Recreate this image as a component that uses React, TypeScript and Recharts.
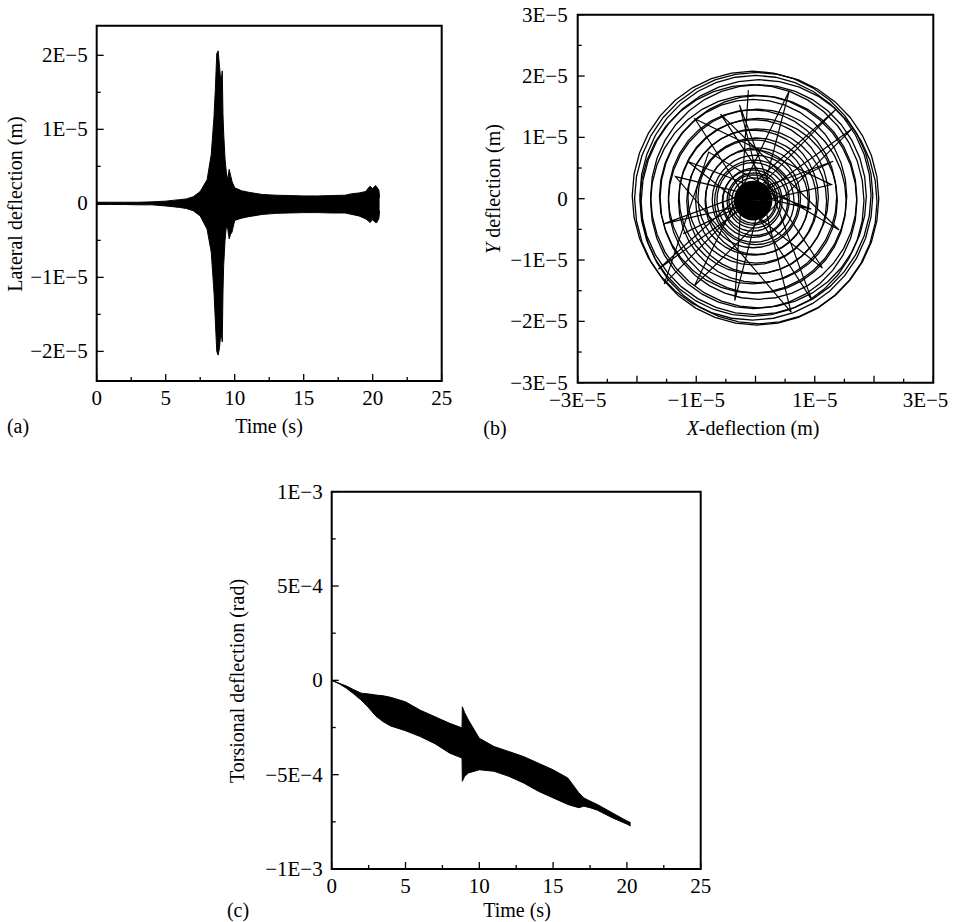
import React from 'react';
import { ComposedChart, Area, Line, XAxis, YAxis, ReferenceArea } from 'recharts';

const FONT = "'Liberation Serif', 'DejaVu Serif', 'Times New Roman', serif";

// ---------- Panel (a): lateral deflection envelope (units 1E-6 m) ----------
const A_TIME = [0, 1, 2, 3, 4, 5, 5.5, 6, 6.5, 7, 7.5, 8, 8.3, 8.5, 8.6, 8.7, 8.8, 8.9, 9.0, 9.1, 9.15, 9.2, 9.3, 9.4, 9.5, 9.6, 9.7, 9.8, 10, 10.5, 11, 12, 13, 14, 15, 16, 17, 18, 18.5, 19, 19.5, 19.7, 19.8, 20.0, 20.2, 20.3, 20.45, 20.5];
const A_UPPER = [0.15, 0.15, 0.15, 0.15, 0.2, 0.3, 0.4, 0.5, 0.6, 0.9, 1.6, 3.2, 6.6, 11.7, 15.5, 20.2, 20.6, 18.5, 16.2, 17.9, 12, 9.5, 6, 4.1, 3.2, 4.6, 3.8, 3.0, 2.1, 1.7, 1.5, 1.2, 1.1, 1.05, 1.0, 1.0, 1.05, 1.1, 1.3, 1.4, 1.6, 2.1, 2.3, 2.0, 2.4, 2.2, 1.8, 0.8];
const A_LOWER = [-0.15, -0.15, -0.15, -0.2, -0.2, -0.35, -0.45, -0.55, -0.7, -1.0, -1.7, -3.5, -6.6, -12, -16, -20, -20.5, -19.5, -17.3, -18.7, -12, -8.4, -5, -3.0, -3.5, -4.8, -4.2, -3.9, -2.3, -2.0, -1.8, -1.5, -1.35, -1.3, -1.25, -1.25, -1.3, -1.3, -1.5, -1.7, -2.1, -2.4, -2.6, -2.2, -2.6, -2.6, -2.0, -1.0];

const TIME_TICKS = [0, 2.5, 5, 7.5, 10, 12.5, 15, 17.5, 20, 22.5, 25];
const TIME_LONG = [0, 5, 10, 15, 20, 25];
const TIME_LABELS = ['0', '5', '10', '15', '20', '25'];

const A_Y_TICKS = [-2e-5, -1.5e-5, -1e-5, -0.5e-5, 0, 0.5e-5, 1e-5, 1.5e-5, 2e-5];
const A_Y_LONG = [-2e-5, -1e-5, 0, 1e-5, 2e-5];
const A_Y_LABELS = ['\u22122E\u22125', '\u22121E\u22125', '0', '1E\u22125', '2E\u22125'];

// ---------- Panel (b): orbit (units 1E-5 m) ----------
const B_RING_R = [2.06, 2.03, 1.99, 1.95, 1.89, 1.82, 1.74, 1.66, 1.58, 1.5, 1.42, 1.34, 1.26, 1.18, 1.1, 1.02, 0.94, 0.87, 0.8, 0.73, 0.67, 0.61, 0.55, 0.5, 0.45, 0.41, 0.37];
const B_RING_CX = [0.02, -0.05, 0.06, 0.0, -0.06, 0.05, -0.03, 0.05, -0.04, 0.03, -0.05, 0.04, -0.03, 0.02, -0.04, 0.01, -0.03, 0.02, -0.04, 0.0, -0.02, -0.04, -0.01, -0.05, -0.03, -0.04, -0.03];
const B_RING_CY = [0.0, 0.05, -0.05, 0.06, -0.03, 0.04, -0.05, 0.02, 0.04, -0.04, 0.03, -0.03, 0.03, -0.04, 0.02, -0.03, 0.02, -0.04, 0.0, -0.02, -0.04, -0.02, -0.05, -0.03, -0.03, -0.02, -0.03];
const B_CORE_R = [0.3, 0.26, 0.22, 0.18, 0.14, 0.1, 0.06, 0.03];
const B_CORE_CX = -0.04;
const B_CORE_CY = -0.03;
const B_ANGLES = [0, 10, 20, 30, 40, 50, 60, 70, 80, 90, 100, 110, 120, 130, 140, 150, 160, 170, 180, 190, 200, 210, 220, 230, 240, 250, 260, 270, 280, 290, 300, 310, 320, 330, 340, 350, 360];
const B_STAR_X = [-0.12, -0.35, 0.57, -1.03, 1.64, -1.64, 1.36, -1.54, -0.79, 1.41, -0.59, 1.13, -1.15, 0.94, -1.35, 0.6, -0.27, 0.95, -1.02, 1.28, -1.55, 1.31, -1.22];
const B_STAR_Y = [1.77, -1.66, 1.76, -1.42, 1.15, -1.15, 1.46, -1.39, 0.76, -0.51, 1.38, -1.13, 0.61, -0.17, 0.36, -1.85, 1.53, -1.65, 1.3, 0.23, -0.41, 0.61, -0.57];

const B_X_TICKS = [-3e-5, -2.5e-5, -2e-5, -1.5e-5, -1e-5, -0.5e-5, 0, 0.5e-5, 1e-5, 1.5e-5, 2e-5, 2.5e-5, 3e-5];
const B_X_LONG = [-3e-5, -2e-5, -1e-5, 0, 1e-5, 2e-5, 3e-5];
const B_X_LABEL_VALS = [-3e-5, -1e-5, 1e-5, 3e-5];
const B_X_LABELS = ['\u22123E\u22125', '\u22121E\u22125', '1E\u22125', '3E\u22125'];
const B_Y_TICKS = B_X_TICKS;
const B_Y_LONG = B_X_LONG;
const B_Y_LABELS = ['\u22123E\u22125', '\u22122E\u22125', '\u22121E\u22125', '0', '1E\u22125', '2E\u22125', '3E\u22125'];

// ---------- Panel (c): torsional deflection envelope (units 1E-4 rad) ----------
const C_TIME = [0, 0.5, 1, 1.5, 2, 2.5, 3, 3.5, 4, 5, 6, 7, 8, 8.83, 8.85, 9.0, 9.26, 10, 11, 12, 13, 14, 15, 16, 16.74, 17.08, 17.5, 18, 19, 20, 20.25];
const C_UPPER = [0, -0.15, -0.3, -0.5, -0.68, -0.72, -0.78, -0.82, -0.9, -1.14, -1.58, -1.93, -2.28, -2.52, -1.4, -1.7, -2.1, -3.07, -3.51, -3.77, -4.04, -4.39, -4.74, -5.18, -5.96, -6.23, -6.4, -6.58, -7.02, -7.45, -7.54];
const C_LOWER = [0, -0.18, -0.42, -0.72, -1.05, -1.45, -1.9, -2.2, -2.42, -2.67, -2.98, -3.36, -3.86, -4.12, -5.35, -5.1, -4.91, -4.74, -4.82, -5.09, -5.44, -5.88, -6.23, -6.58, -6.75, -6.67, -6.75, -6.88, -7.28, -7.62, -7.72];

const C_Y_TICKS = [-1e-3, -7.5e-4, -5e-4, -2.5e-4, 0, 2.5e-4, 5e-4, 7.5e-4, 1e-3];
const C_Y_LONG = [-1e-3, -5e-4, 0, 5e-4, 1e-3];
const C_Y_LABELS = ['\u22121E\u22123', '\u22125E\u22124', '0', '5E\u22124', '1E\u22123'];

// ---------- derived tables ----------
const aData = A_TIME.map((t, i) => ({ t, range: [A_LOWER[i] * 1e-6, A_UPPER[i] * 1e-6] }));
const cData = C_TIME.map((t, i) => ({ t, range: [C_LOWER[i] * 1e-4, C_UPPER[i] * 1e-4] }));
const toRad = (d: number) => (d * Math.PI) / 180;
const ringData = B_RING_R.map((r, i) =>
  B_ANGLES.map((a) => ({ x: (B_RING_CX[i] + r * Math.cos(toRad(a))) * 1e-5, y: (B_RING_CY[i] + r * Math.sin(toRad(a))) * 1e-5 }))
);
const coreData = B_CORE_R.map((r) =>
  B_ANGLES.map((a) => ({ x: (B_CORE_CX + r * Math.cos(toRad(a))) * 1e-5, y: (B_CORE_CY + r * Math.sin(toRad(a))) * 1e-5 }))
);
const starData = B_STAR_X.map((x, i) => ({ x: x * 1e-5, y: B_STAR_Y[i] * 1e-5 }));

const near = (a: number, b: number) => Math.abs(a - b) < 1e-10;
const TICK_FS = 21;
const textStyle = { fontFamily: FONT };

function makeXTick(long: number[], labelVals: number[], labels: string[], endLast = false) {
  return function XTick(props: any) {
    const { x, y, payload } = props;
    const v = payload.value;
    const isLong = long.some((m) => near(m, v));
    const li = labelVals.findIndex((m) => near(m, v));
    const len = isLong ? 7 : 4;
    let anchor: 'middle' | 'end' = 'middle';
    let tx = x;
    if (endLast && li === labelVals.length - 1) {
      anchor = 'end';
      tx = x + 15;
    }
    return (
      <g>
        <line x1={x} y1={y} x2={x} y2={y - len} stroke="#000" strokeWidth={1.3} />
        {li >= 0 && (
          <text x={tx} y={y + 24} textAnchor={anchor} style={textStyle} fontSize={TICK_FS} fill="#000">
            {labels[li]}
          </text>
        )}
      </g>
    );
  };
}

function makeYTick(long: number[], labelVals: number[], labels: string[], gap: number) {
  return function YTick(props: any) {
    const { x, y, payload } = props;
    const v = payload.value;
    const isLong = long.some((m) => near(m, v));
    const li = labelVals.findIndex((m) => near(m, v));
    const len = isLong ? 7 : 4;
    return (
      <g>
        <line x1={x} y1={y} x2={x + len} y2={y} stroke="#000" strokeWidth={1.3} />
        {li >= 0 && (
          <text x={x - gap} y={y + 7} textAnchor="end" style={textStyle} fontSize={TICK_FS} fill="#000">
            {labels[li]}
          </text>
        )}
      </g>
    );
  };
}

const AX_W = 60;
const AX_H = 40;

export default function App() {
  return (
    <div style={{ position: 'absolute', left: 0, top: 0, width: 954, height: 922, background: '#fff' }}>
      {/* Panel (a) */}
      <div style={{ position: 'absolute', left: 0, top: 0 }}>
        <ComposedChart width={460} height={440} data={aData} margin={{ top: 25.7, left: 96.7 - AX_W, right: 18.3, bottom: 440 - 381 - AX_H }}>
          <XAxis type="number" dataKey="t" domain={[0, 25]} ticks={TIME_TICKS} interval={0} allowDataOverflow
            tick={makeXTick(TIME_LONG, TIME_LONG, TIME_LABELS)} tickLine={false} axisLine={false} tickSize={0} tickMargin={0} height={AX_H} />
          <YAxis type="number" domain={[-2.4e-5, 2.4e-5]} ticks={A_Y_TICKS} interval={0} allowDataOverflow
            tick={makeYTick(A_Y_LONG, A_Y_LONG, A_Y_LABELS, 9)} tickLine={false} axisLine={false} tickSize={0} tickMargin={0} width={AX_W} />
          <Area type="linear" dataKey="range" stroke="#000" strokeWidth={1} fill="#000" fillOpacity={1} dot={false} activeDot={false} isAnimationActive={false} />
          <ReferenceArea x1={0} x2={25} y1={-2.4e-5} y2={2.4e-5} fill="none" fillOpacity={0} stroke="#000" strokeWidth={2} ifOverflow="visible" />
        </ComposedChart>
      </div>

      {/* Panel (b) */}
      <div style={{ position: 'absolute', left: 460, top: 0 }}>
        <ComposedChart width={494} height={440} margin={{ top: 14.7, left: 117.7 - AX_W, right: 20.7, bottom: 440 - 382.7 - AX_H }}>
          <XAxis type="number" dataKey="x" domain={[-3e-5, 3e-5]} ticks={B_X_TICKS} interval={0} allowDataOverflow
            tick={makeXTick(B_X_LONG, B_X_LABEL_VALS, B_X_LABELS, true)} tickLine={false} axisLine={false} tickSize={0} tickMargin={0} height={AX_H} />
          <YAxis type="number" dataKey="y" domain={[-3e-5, 3e-5]} ticks={B_Y_TICKS} interval={0} allowDataOverflow
            tick={makeYTick(B_Y_LONG, B_Y_LONG, B_Y_LABELS, 10)} tickLine={false} axisLine={false} tickSize={0} tickMargin={0} width={AX_W} />
          {ringData.map((d, i) => (
            <Line key={'r' + i} data={d} dataKey="y" type="linear" stroke="#000" strokeWidth={1.3} dot={false} activeDot={false} isAnimationActive={false} />
          ))}
          {coreData.map((d, i) => (
            <Line key={'c' + i} data={d} dataKey="y" type="linear" stroke="#000" strokeWidth={3} dot={false} activeDot={false} isAnimationActive={false} />
          ))}
          <Line data={starData} dataKey="y" type="linear" stroke="#000" strokeWidth={1.2} dot={false} activeDot={false} isAnimationActive={false} />
          <ReferenceArea x1={-3e-5} x2={3e-5} y1={-3e-5} y2={3e-5} fill="none" fillOpacity={0} stroke="#000" strokeWidth={2} ifOverflow="visible" />
        </ComposedChart>
      </div>

      {/* Panel (c) */}
      <div style={{ position: 'absolute', left: 180, top: 470 }}>
        <ComposedChart width={540} height={452} data={cData} margin={{ top: 21.7, left: 151.7 - AX_W, right: 19.3, bottom: 452 - 399 - AX_H }}>
          <XAxis type="number" dataKey="t" domain={[0, 25]} ticks={TIME_TICKS} interval={0} allowDataOverflow
            tick={makeXTick(TIME_LONG, TIME_LONG, TIME_LABELS)} tickLine={false} axisLine={false} tickSize={0} tickMargin={0} height={AX_H} />
          <YAxis type="number" domain={[-1e-3, 1e-3]} ticks={C_Y_TICKS} interval={0} allowDataOverflow
            tick={makeYTick(C_Y_LONG, C_Y_LONG, C_Y_LABELS, 9)} tickLine={false} axisLine={false} tickSize={0} tickMargin={0} width={AX_W} />
          <Area type="linear" dataKey="range" stroke="#000" strokeWidth={1} fill="#000" fillOpacity={1} dot={false} activeDot={false} isAnimationActive={false} />
          <ReferenceArea x1={0} x2={25} y1={-1e-3} y2={1e-3} fill="none" fillOpacity={0} stroke="#000" strokeWidth={2} ifOverflow="visible" />
        </ComposedChart>
      </div>

      {/* Axis titles and panel labels */}
      <svg width={954} height={922} style={{ position: 'absolute', left: 0, top: 0, pointerEvents: 'none', fontFamily: FONT }}
        fontSize={20} fill="#000">
        <text transform="translate(15,204) rotate(-90)" textAnchor="middle" dominantBaseline="central">Lateral deflection (m)</text>
        <text x={269} y={426} textAnchor="middle" dominantBaseline="central">Time (s)</text>
        <text x={18} y={426} textAnchor="middle" dominantBaseline="central">(a)</text>

        <text transform="translate(493,189) rotate(-90)" textAnchor="middle" dominantBaseline="central">
          <tspan fontStyle="italic">Y</tspan> deflection (m)
        </text>
        <text x={753} y={428} textAnchor="middle" dominantBaseline="central">
          <tspan fontStyle="italic">X</tspan>-deflection (m)
        </text>
        <text x={495} y={428} textAnchor="middle" dominantBaseline="central">(b)</text>

        <text transform="translate(237,681) rotate(-90)" textAnchor="middle" dominantBaseline="central">Torsional deflection (rad)</text>
        <text x={517} y={910} textAnchor="middle" dominantBaseline="central">Time (s)</text>
        <text x={238} y={910} textAnchor="middle" dominantBaseline="central">(c)</text>
      </svg>
    </div>
  );
}
